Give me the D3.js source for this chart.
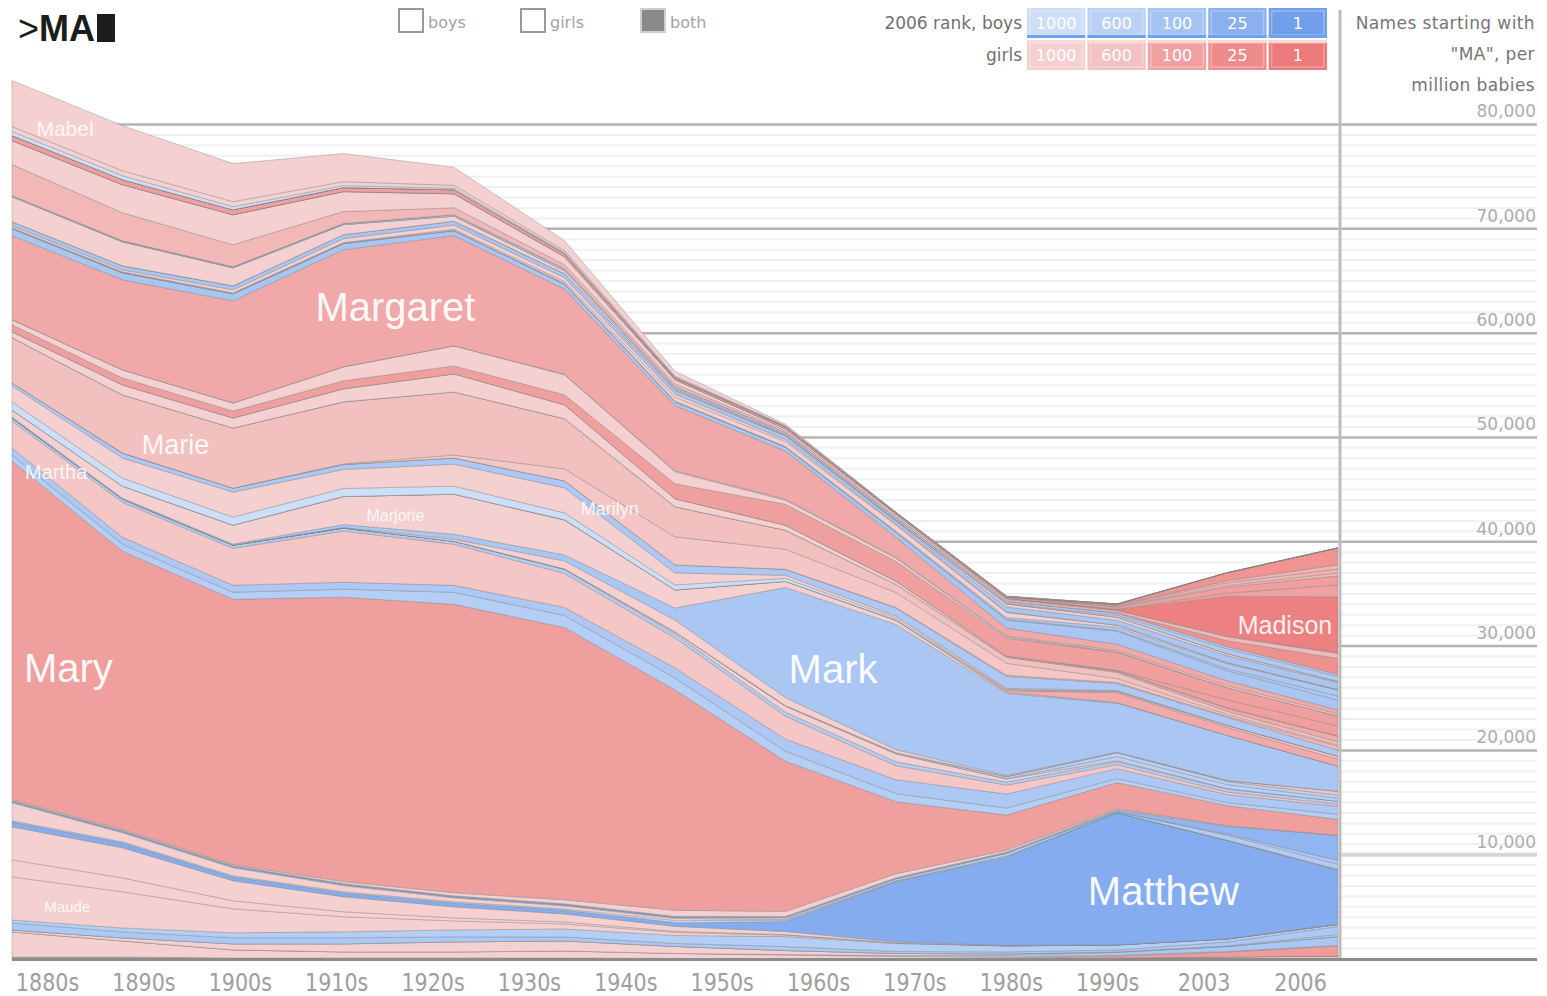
<!DOCTYPE html>
<html>
<head>
<meta charset="utf-8">
<script src="https://cdnjs.cloudflare.com/ajax/libs/d3/7.8.5/d3.min.js"></script>
<style>
  body { margin: 0; background: #ffffff; }
  svg { display: block; }
</style>
</head>
<body>
<svg id="chart" width="1547" height="996"></svg>
<script>
// Babies per million named "MA…", by decade (1880s … 2000s)
const decades = [1880, 1890, 1900, 1910, 1920, 1930, 1940, 1950, 1960, 1970, 1980, 1990, 2000];
const tickLabels = ["1880s", "1890s", "1900s", "1910s", "1920s", "1930s", "1940s", "1950s", "1960s", "1970s", "1980s", "1990s", "2003", "2006"];
const yTicks = [10000, 20000, 30000, 40000, 50000, 60000, 70000, 80000];
const rankBreaks = [1000, 600, 100, 25, 1];

const mabel       = [4420, 4320, 3650, 2690, 1730, 960, 480, 140, 50, 50, 0, 0, 0];
const mable       = [480, 480, 480, 380, 290, 190, 100, 50, 0, 0, 0, 0, 0];
const mack        = [380, 380, 290, 190, 140, 100, 50, 50, 0, 0, 0, 0, 0];
const mackenzie   = [0, 0, 0, 0, 0, 0, 0, 0, 0, 0, 100, 770, 1630];
const macie       = [0, 0, 0, 0, 0, 0, 0, 0, 0, 0, 50, 190, 380];
const macy        = [0, 0, 0, 0, 0, 0, 0, 0, 0, 50, 100, 290, 380];
const madalyn     = [0, 0, 0, 0, 0, 0, 0, 0, 0, 0, 50, 140, 290];
const madeline    = [480, 480, 480, 380, 380, 290, 190, 190, 140, 140, 190, 580, 860];
const madelyn     = [0, 0, 0, 0, 0, 0, 0, 0, 0, 0, 50, 290, 1150];
const madison     = [0, 0, 0, 0, 0, 0, 0, 0, 0, 0, 50, 3840, 5380];
const mae         = [2300, 2690, 2880, 1920, 1340, 770, 380, 190, 190, 100, 50, 50, 50];
const maggie      = [2980, 2690, 2110, 1150, 670, 380, 290, 190, 190, 190, 190, 380, 480];
const makayla     = [0, 0, 0, 0, 0, 0, 0, 0, 0, 0, 50, 580, 1540];
const malcolm     = [100, 100, 100, 100, 140, 190, 190, 190, 190, 190, 190, 190, 190];
const malik       = [0, 0, 0, 0, 0, 0, 0, 0, 0, 50, 190, 480, 480];
const mamie       = [2400, 2300, 1730, 960, 480, 290, 140, 100, 50, 0, 0, 0, 0];
const mandy       = [0, 0, 0, 0, 0, 0, 0, 0, 50, 290, 290, 190, 100];
const manuel      = [380, 380, 380, 380, 380, 380, 380, 380, 290, 480, 480, 670, 670];
const marcella    = [190, 190, 290, 380, 380, 380, 290, 190, 100, 50, 0, 0, 0];
const marcia      = [50, 50, 50, 50, 100, 190, 380, 480, 580, 480, 190, 100, 50];
const marco       = [50, 50, 50, 50, 50, 50, 50, 50, 100, 190, 290, 480, 580];
const marcos      = [0, 0, 0, 0, 0, 0, 0, 0, 0, 50, 100, 190, 380];
const marcus      = [670, 670, 670, 580, 480, 480, 380, 380, 480, 770, 1250, 960, 960];
const margaret    = [8060, 8640, 9790, 11230, 10560, 8160, 6240, 4610, 1920, 770, 580, 480, 380];
const margarita   = [0, 0, 0, 0, 0, 50, 100, 100, 100, 100, 140, 190, 190];
const margie      = [480, 770, 770, 1340, 1920, 1920, 1150, 380, 290, 100, 50, 0, 0];
const maria       = [670, 670, 670, 770, 770, 960, 1440, 2020, 1920, 1730, 1730, 1150, 960];
const mariah      = [0, 0, 0, 0, 0, 0, 0, 0, 0, 0, 50, 770, 960];
const marian      = [580, 960, 960, 1250, 1730, 1340, 770, 480, 290, 100, 50, 50, 0];
const mariana     = [0, 0, 0, 0, 0, 0, 0, 0, 0, 0, 100, 290, 580];
const marie       = [4320, 5570, 5760, 5950, 6050, 4800, 2880, 1820, 770, 580, 580, 290, 290];
const marilyn     = [0, 0, 0, 50, 290, 1150, 2690, 1920, 1440, 1150, 380, 190, 100];
const marina      = [0, 0, 0, 0, 0, 0, 0, 0, 50, 100, 100, 100, 380];
const mario       = [290, 480, 380, 480, 580, 670, 770, 580, 770, 1150, 670, 770, 580];
const marionGirls = [1540, 1920, 2400, 1820, 2110, 2400, 1150, 290, 190, 100, 50, 0, 0];
const marionBoys  = [770, 770, 770, 770, 770, 670, 480, 290, 190, 100, 50, 0, 0];
const marisol     = [0, 0, 0, 0, 0, 0, 0, 0, 0, 0, 100, 190, 290];
const marissa     = [0, 0, 0, 0, 0, 0, 0, 0, 50, 190, 960, 770, 670];
const marjorie    = [670, 1150, 1820, 2690, 3840, 3360, 1730, 580, 380, 100, 50, 0, 0];
const mark        = [100, 100, 100, 290, 480, 580, 1150, 10560, 12000, 7870, 4700, 4320, 2400];
const marlene     = [0, 0, 0, 50, 190, 770, 1150, 770, 290, 100, 50, 0, 0];
const marley      = [0, 0, 0, 0, 0, 0, 0, 0, 0, 0, 0, 100, 380];
const marlon      = [0, 0, 0, 0, 0, 0, 0, 50, 100, 190, 380, 290, 290];
const marquis     = [0, 0, 0, 0, 0, 0, 0, 0, 0, 50, 380, 380, 290];
const marsha      = [0, 0, 0, 0, 0, 50, 190, 580, 770, 290, 100, 50, 0];
const marshall    = [290, 290, 290, 290, 290, 380, 380, 380, 380, 290, 290, 290, 290];
const martha      = [2590, 3360, 3550, 4900, 3940, 3260, 2880, 2210, 1340, 860, 380, 240, 190];
const martin      = [670, 670, 670, 670, 670, 770, 960, 1150, 1340, 1340, 960, 770, 770];
const marvin      = [580, 670, 670, 770, 1150, 1150, 1150, 960, 770, 670, 380, 290, 480];
const mary        = [32450, 26690, 25440, 27260, 27650, 26110, 21120, 14400, 6910, 3360, 2500, 1920, 1540];
const maryann     = [100, 100, 100, 190, 290, 380, 580, 480, 380, 190, 100, 50, 0];
const mason       = [100, 100, 100, 100, 100, 100, 100, 100, 100, 100, 190, 770, 2400];
const mateo       = [0, 0, 0, 0, 0, 0, 0, 0, 0, 0, 0, 100, 380];
const mathew      = [100, 100, 100, 100, 100, 100, 100, 190, 190, 290, 100, 480, 480];
const matilda     = [1730, 860, 770, 580, 380, 290, 190, 100, 50, 0, 0, 0, 50];
const matt        = [100, 100, 100, 100, 100, 100, 190, 100, 50, 100, 0, 50, 0];
const matthew     = [480, 480, 380, 380, 380, 380, 380, 960, 5760, 8450, 12670, 9410, 5180];
const mattie      = [3170, 2880, 1920, 1440, 1060, 770, 480, 290, 100, 50, 0, 0, 50];
const maud        = [1630, 1340, 770, 480, 290, 190, 100, 50, 0, 0, 0, 0, 0];
const maude       = [4130, 3460, 2300, 1440, 860, 480, 290, 140, 50, 0, 0, 0, 0];
const maurice     = [290, 380, 480, 580, 670, 770, 770, 960, 770, 580, 480, 290, 190];
const maxName     = [670, 580, 580, 580, 480, 380, 290, 380, 190, 190, 190, 380, 770];
const maximus     = [0, 0, 0, 0, 0, 0, 0, 0, 0, 0, 0, 50, 190];
const maxine      = [190, 290, 580, 770, 960, 960, 670, 380, 190, 100, 50, 0, 0];
const maxwell     = [0, 0, 0, 0, 0, 0, 0, 50, 100, 190, 290, 480, 860];
const may         = [2400, 1540, 770, 580, 580, 670, 480, 380, 190, 100, 50, 50, 50];
const maya        = [0, 0, 0, 0, 0, 0, 0, 0, 50, 100, 190, 480, 960];
const maybelle    = [190, 190, 100, 100, 100, 100, 50, 0, 0, 0, 0, 0, 0];
const mayra       = [0, 0, 0, 0, 0, 0, 0, 0, 0, 0, 100, 190, 290];

// [name, sex, 2006 rank (null = outside the top 1000), series] in alphabetical order
const layers = [
  ["Mabel", "F", null, mabel], ["Mable", "F", null, mable], ["Mack", "M", null, mack],
  ["Mackenzie", "F", 40, mackenzie], ["Macie", "F", 300, macie], ["Macy", "F", 250, macy],
  ["Madalyn", "F", 350, madalyn], ["Madeline", "F", 80, madeline], ["Madelyn", "F", 95, madelyn],
  ["Madison", "F", 3, madison], ["Mae", "F", null, mae], ["Maggie", "F", 330, maggie],
  ["Makayla", "F", 35, makayla], ["Malcolm", "M", 380, malcolm], ["Malik", "M", 250, malik],
  ["Mamie", "F", null, mamie], ["Mandy", "F", 900, mandy], ["Manuel", "M", 130, manuel],
  ["Marcella", "F", null, marcella], ["Marcia", "F", null, marcia], ["Marco", "M", 190, marco],
  ["Marcos", "M", 200, marcos], ["Marcus", "M", 140, marcus], ["Margaret", "F", 140, margaret],
  ["Margarita", "F", 700, margarita], ["Margie", "F", null, margie], ["Maria", "F", 85, maria],
  ["Mariah", "F", 85, mariah], ["Marian", "F", null, marian], ["Mariana", "F", 150, mariana],
  ["Marie", "F", 550, marie], ["Marilyn", "F", 700, marilyn], ["Marina", "F", 330, marina],
  ["Mario", "M", 200, mario], ["Marion", "F", null, marionGirls], ["Marion", "M", null, marionBoys],
  ["Marisol", "F", 580, marisol], ["Marissa", "F", 150, marissa], ["Marjorie", "F", null, marjorie],
  ["Mark", "M", 160, mark], ["Marlene", "F", null, marlene], ["Marley", "F", 600, marley],
  ["Marlon", "M", 600, marlon], ["Marquis", "M", 600, marquis], ["Marsha", "F", null, marsha],
  ["Marshall", "M", 330, marshall], ["Martha", "F", 700, martha], ["Martin", "M", 200, martin],
  ["Marvin", "M", 430, marvin], ["Mary", "F", 85, mary], ["Maryann", "F", null, maryann],
  ["Mason", "M", 35, mason], ["Mateo", "M", 200, mateo], ["Mathew", "M", 300, mathew],
  ["Matilda", "F", null, matilda], ["Matt", "M", null, matt], ["Matthew", "M", 12, matthew],
  ["Mattie", "F", null, mattie], ["Maud", "F", null, maud], ["Maude", "F", null, maude],
  ["Maurice", "M", 400, maurice], ["Max", "M", 180, maxName], ["Maximus", "M", 450, maximus],
  ["Maxine", "F", null, maxine], ["Maxwell", "M", 150, maxwell], ["May", "F", null, may],
  ["Maya", "F", 70, maya], ["Maybelle", "F", null, maybelle], ["Mayra", "F", 400, mayra]
];

// Names written inside their bands: where along the band, and how large
const nameLabels = [
  { name: "Mabel", year: 1884.8, size: 21, opacity: 0.85 },
  { name: "Margaret", year: 1914.7, size: 40, opacity: 0.95 },
  { name: "Marie", year: 1894.8, size: 27, opacity: 0.9 },
  { name: "Martha", year: 1884.0, size: 20, opacity: 0.85 },
  { name: "Marjorie", year: 1914.7, size: 16, opacity: 0.85 },
  { name: "Marilyn", year: 1934.1, size: 18, opacity: 0.85 },
  { name: "Mary", year: 1885.1, size: 40, opacity: 0.95 },
  { name: "Mark", year: 1954.3, size: 40, opacity: 0.95 },
  { name: "Matthew", year: 1984.2, size: 40, opacity: 0.95 },
  { name: "Madison", year: 1995.2, size: 25, opacity: 0.9 },
  { name: "Maude", year: 1885.0, size: 15, opacity: 0.85 }
];

const girlShades = ["#f5d0d0", "#f3c2c2", "#f0a2a2", "#ee8c8c", "#ec7a7a"];
const boyShades  = ["#cddff7", "#b9d1f5", "#a5c3f3", "#8bb0ef", "#729fea"];

const svg = d3.select("#chart");
const uiFont = "'DejaVu Sans', Verdana, sans-serif";
const labelFont = "'Liberation Sans', Arial, sans-serif";

const x = d3.scaleLinear().domain([decades[0], decades[decades.length - 1]]).range([12, 1338]);
const y = d3.scaleLinear().domain([0, 80000]).range([959, 124.5]);
const xLabels = d3.scalePoint().domain(tickLabels).range([47, 1300]);

const girlColor = d3.scaleLog().domain(rankBreaks).range(girlShades).clamp(true);
const boyColor  = d3.scaleLog().domain(rankBreaks).range(boyShades).clamp(true);
const colorOf = (sex, rank) => (sex === "M" ? boyColor : girlColor)(rank == null ? 1000 : rank);

// ---- grid ----
const grid = svg.append("g");
const minorValues = d3.range(1000, 80001, 1000).filter(v => v % 10000 !== 0);
grid.selectAll("line.minor").data(minorValues).join("line")
  .attr("class", "minor")
  .attr("x1", 12).attr("x2", 1537)
  .attr("y1", d => y(d)).attr("y2", d => y(d))
  .attr("stroke", "#f0f0f0").attr("stroke-width", 2);
grid.selectAll("line.major").data(yTicks).join("line")
  .attr("class", "major")
  .attr("x1", 12).attr("x2", 1537)
  .attr("y1", d => y(d)).attr("y2", d => y(d))
  .attr("stroke", d => d === 10000 ? "#d6d6d6" : "#b4b4b4")
  .attr("stroke-width", d => d === 10000 ? 4 : 2.5);

// ---- stacked streams ----
const rows = decades.map((yr, i) => ({ year: yr, values: layers.map(l => l[3][i]) }));
const stack = d3.stack()
  .keys(d3.range(layers.length).reverse())
  .value((row, k) => row.values[k]);
const stacked = stack(rows);

const area = d3.area()
  .x(d => x(d.data.year))
  .y0(d => y(d[0]))
  .y1(d => y(d[1]))
  .curve(d3.curveLinear);

svg.append("g").selectAll("path").data(stacked).join("path")
  .attr("d", area)
  .attr("fill", s => colorOf(layers[s.key][1], layers[s.key][2]))
  .attr("stroke", "rgba(125,125,125,0.38)")
  .attr("stroke-width", 1);

// ---- names inside the streams ----
function bandMiddle(layerIndex, yr) {
  const s = stacked.find(t => t.key === layerIndex);
  const i = Math.min(Math.floor((yr - decades[0]) / 10), decades.length - 2);
  const t = (yr - decades[i]) / (decades[i + 1] - decades[i]);
  const lo = s[i][0] + (s[i + 1][0] - s[i][0]) * t;
  const hi = s[i][1] + (s[i + 1][1] - s[i][1]) * t;
  return y((lo + hi) / 2);
}
svg.append("g").selectAll("text").data(nameLabels).join("text")
  .attr("x", d => x(d.year))
  .attr("y", d => bandMiddle(layers.findIndex(l => l[0] === d.name), d.year))
  .attr("dy", "0.18em")
  .attr("text-anchor", "middle")
  .attr("dominant-baseline", "central")
  .attr("font-family", labelFont)
  .attr("font-size", d => d.size)
  .attr("fill", "#ffffff")
  .attr("fill-opacity", d => d.opacity)
  .text(d => d.name);

// ---- right divider ----
svg.append("line")
  .attr("x1", 1340).attr("x2", 1340).attr("y1", 10).attr("y2", 959)
  .attr("stroke", "#bdbdbd").attr("stroke-width", 3);

// ---- value axis (labels sit above their gridlines) ----
const yAxis = svg.append("g")
  .attr("transform", "translate(1536,0)")
  .call(d3.axisLeft(y).tickValues(yTicks).tickSize(0).tickPadding(0).tickFormat(d3.format(",")));
yAxis.select(".domain").remove();
yAxis.selectAll("text")
  .attr("dy", "-0.45em")
  .attr("font-family", uiFont)
  .attr("font-size", 17)
  .attr("fill", "#adadad");

// ---- time axis ----
svg.append("line")
  .attr("x1", 12).attr("x2", 1537).attr("y1", 959.5).attr("y2", 959.5)
  .attr("stroke", "#8c8c8c").attr("stroke-width", 3);
const xAxis = svg.append("g")
  .attr("transform", "translate(0,959)")
  .call(d3.axisBottom(xLabels).tickSize(0).tickPadding(15));
xAxis.select(".domain").remove();
xAxis.selectAll("text")
  .attr("font-family", uiFont)
  .attr("font-size", 24)
  .attr("fill", "#9e9e9e")
  .attr("transform", "scale(0.86,1)");

// ---- header: search prompt ----
const prompt = svg.append("text")
  .attr("x", 18).attr("y", 41)
  .attr("font-family", labelFont)
  .attr("font-weight", "bold")
  .attr("font-size", 36)
  .attr("fill", "#1c1c1c");
prompt.append("tspan").attr("font-weight", "normal").text(">");
prompt.append("tspan").text("MA");
svg.append("rect").attr("x", 97).attr("y", 14).attr("width", 18).attr("height", 28).attr("fill", "#1c1c1c");

// ---- header: sex filter ----
const filters = [
  { text: "boys", x: 399, on: false },
  { text: "girls", x: 521, on: false },
  { text: "both", x: 641, on: true }
];
const fg = svg.append("g").selectAll("g").data(filters).join("g")
  .attr("transform", d => `translate(${d.x},9)`);
fg.append("rect")
  .attr("width", 24).attr("height", 23)
  .attr("fill", d => d.on ? "#8a8a8a" : "#ffffff")
  .attr("stroke", d => d.on ? "#cfcfcf" : "#9a9a9a")
  .attr("stroke-width", 2);
fg.append("text")
  .attr("x", 29).attr("y", 19)
  .attr("font-family", uiFont).attr("font-size", 16)
  .attr("fill", "#a3a3a3")
  .text(d => d.text);

// ---- header: 2006 rank colour key ----
const cellX = d3.scaleBand().domain(rankBreaks).range([1027, 1327]).paddingInner(0.035);
const keyRows = [
  { title: "2006 rank, boys", top: 8, color: boyColor, edge: "#6aa3f0", edgeAt: "bottom" },
  { title: "girls", top: 40, color: girlColor, edge: "#f8dada", edgeAt: "top" }
];
keyRows.forEach(r => {
  svg.append("text")
    .attr("x", 1022).attr("y", r.top + 21)
    .attr("text-anchor", "end")
    .attr("font-family", uiFont).attr("font-size", 17)
    .attr("fill", "#707070")
    .text(r.title);
  const cells = svg.append("g").selectAll("g").data(rankBreaks).join("g")
    .attr("transform", d => `translate(${cellX(d)},${r.top})`);
  cells.append("rect")
    .attr("width", cellX.bandwidth()).attr("height", 30)
    .attr("fill", d => r.color(d));
  cells.append("rect")
    .attr("x", 3).attr("y", 3)
    .attr("width", cellX.bandwidth() - 6).attr("height", 24)
    .attr("fill", "none")
    .attr("stroke", "rgba(255,255,255,0.28)").attr("stroke-width", 1.5);
  cells.append("rect")
    .attr("y", r.edgeAt === "bottom" ? 27 : 0)
    .attr("width", cellX.bandwidth()).attr("height", 3)
    .attr("fill", r.edge);
  cells.append("text")
    .attr("x", cellX.bandwidth() / 2).attr("y", 21)
    .attr("text-anchor", "middle")
    .attr("font-family", uiFont).attr("font-size", 16)
    .attr("fill", "#ffffff")
    .text(d => d);
});

// ---- value axis title ----
const titleLines = ["Names starting with", "\"MA\", per", "million babies"];
svg.append("g").selectAll("text").data(titleLines).join("text")
  .attr("x", 1535)
  .attr("y", (d, i) => 29 + i * 31)
  .attr("text-anchor", "end")
  .attr("font-family", uiFont).attr("font-size", 17)
  .attr("letter-spacing", 0.4)
  .attr("fill", "#757575")
  .text(d => d);
</script>
</body>
</html>
